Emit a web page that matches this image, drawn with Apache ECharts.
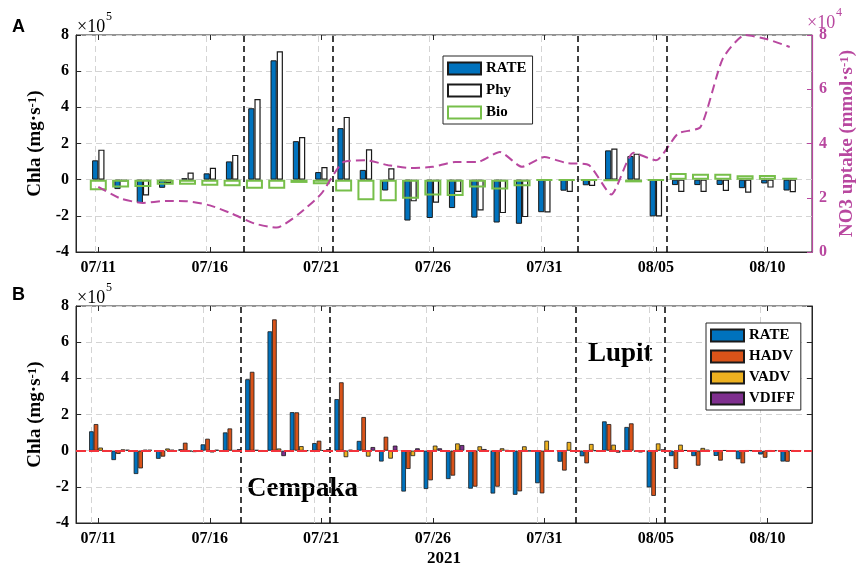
<!DOCTYPE html>
<html>
<head>
<meta charset="utf-8">
<script src="https://cdn.jsdelivr.net/npm/echarts@6/dist/echarts.min.js"></script>
<style>
  html, body { margin: 0; padding: 0; background: #fff; }
  #main { width: 856px; height: 566px; }
</style>
</head>
<body>
<div id="main"></div>
<script>
// days of the record, x position = index in this list
var dates = ['07/11','07/12','07/13','07/14','07/15','07/16','07/17','07/18','07/19','07/20',
             '07/21','07/22','07/23','07/24','07/25','07/26','07/27','07/28','07/29','07/30',
             '07/31','08/01','08/02','08/03','08/04','08/05','08/06','08/07','08/08','08/09',
             '08/10','08/11'];
var tickLabels = ['07/11','07/16','07/21','07/26','07/31','08/05','08/10'];

// Chla budget terms, units of 1e5 mg/s
var rate  = [1.07,-0.52,-1.29,-0.45,0.08,0.35,1.01,3.95,6.60,2.13,0.42,2.85,0.54,-0.60,-2.26,-2.12,
             -1.57,-2.10,-2.37,-2.44,-1.80,-0.61,-0.31,1.62,1.31,-2.03,-0.30,-0.30,-0.29,-0.47,-0.21,-0.60];
var phy   = [1.66,-0.10,-0.87,-0.18,0.39,0.66,1.37,4.46,7.10,2.36,0.70,3.47,1.68,0.63,-1.20,-1.27,
             -0.68,-1.70,-1.85,-2.07,-1.81,-0.68,-0.35,1.72,1.44,-2.03,-0.68,-0.68,-0.63,-0.72,-0.44,-0.70];
var bio   = [-0.59,-0.44,-0.41,-0.28,-0.28,-0.33,-0.37,-0.50,-0.50,-0.18,-0.26,-0.65,-1.14,-1.20,-1.05,-0.87,
             -0.90,-0.44,-0.54,-0.37,-0.05,-0.04,-0.04,-0.07,-0.15,-0.03,0.37,0.33,0.33,0.24,0.26,0.11];
var hadv  = [1.47,-0.18,-0.98,-0.33,0.44,0.66,1.23,4.36,7.26,2.12,0.55,3.78,1.86,0.77,-1.01,-1.64,
             -1.38,-1.99,-1.99,-2.25,-2.36,-1.10,-0.70,1.47,1.51,-2.50,-1.01,-0.83,-0.55,-0.70,-0.39,-0.61];
var vadv  = [0.17,0.07,0.05,0.12,-0.05,-0.10,0.03,0.04,0.12,0.25,0.02,-0.36,-0.33,-0.44,-0.30,0.28,
             0.40,0.24,0.13,0.24,0.55,0.48,0.37,0.33,-0.05,0.40,0.33,0.15,0.02,0.02,0.02,0.02];
var vdiff = [0.02,0.05,0.05,0.05,-0.08,0.05,0.08,0.02,-0.30,0.00,0.08,0.05,0.20,0.28,0.13,0.13,
             0.31,0.09,0.03,-0.03,0.00,0.00,0.00,-0.11,-0.10,0.07,0.02,0.05,0.00,0.00,0.00,0.00];
// NO3 uptake, units of 1e4 mmol/s
var no3   = [2.40,1.97,1.81,1.88,1.87,1.72,1.41,1.05,0.90,1.41,2.15,3.32,3.38,3.20,3.10,3.14,
             3.32,3.32,3.69,3.14,3.50,3.28,3.20,2.12,3.66,3.38,4.37,4.61,7.13,8.00,7.84,7.56];
// typhoon markers (days after 07/11)
var eventDays = [6.5, 10.5, 21.5, 25.5];

var serif = 'Liberation Serif';
var axisColor = '#262626';
var magenta = '#B8479F';
var gridGray = '#D4D4D4';

var tickDays = tickLabels.map(function (t) { return dates.indexOf(t); });

function pairs(arr) {
  return arr.map(function (v, i) { return [i, v]; });
}

function xAxisFor(gridIndex, position, showLabels, name) {
  return {
    type: 'value', gridIndex: gridIndex, position: position, min: -1, max: 32,
    name: name || '', nameLocation: 'middle', nameGap: 27,
    nameTextStyle: { fontFamily: serif, fontSize: 17, fontWeight: 'bold', color: '#000' },
    axisLine: { show: position === 'bottom', onZero: false, lineStyle: { color: axisColor } },
    axisTick: { show: true, inside: true, length: 5, customValues: tickDays, lineStyle: { color: axisColor } },
    axisLabel: {
      show: showLabels, customValues: tickDays, margin: 8,
      fontFamily: serif, fontSize: 16, fontWeight: 'bold', color: '#000',
      formatter: function (v) { return dates[v]; }
    },
    splitLine: { show: false }
  };
}

function chlaAxis(gridIndex) {
  return {
    type: 'value', gridIndex: gridIndex, position: 'left', min: -4, max: 8, interval: 2,
    name: 'Chla (mg·s{sup|-1})', nameLocation: 'middle', nameGap: 24, nameRotate: 90,
    nameTextStyle: {
      fontFamily: serif, fontSize: 19, fontWeight: 'bold', color: '#000',
      rich: { sup: { fontFamily: serif, fontSize: 13, fontWeight: 'bold', color: '#000', verticalAlign: 'top' } }
    },
    axisLine: { show: true, onZero: false, lineStyle: { color: axisColor } },
    axisTick: { inside: true, length: 5, lineStyle: { color: axisColor } },
    axisLabel: { margin: 7, fontFamily: serif, fontSize: 16, fontWeight: 'bold', color: '#000' },
    splitLine: { show: true, lineStyle: { color: gridGray, type: [6, 4], width: 1 } }
  };
}

var gridMark = {
  silent: true, symbol: ['none', 'none'], z: 1, label: { show: false },
  lineStyle: { color: gridGray, type: [6, 4], width: 1 },
  data: tickDays.map(function (d) { return { xAxis: d }; })
};
var eventMark = {
  silent: true, symbol: ['none', 'none'], z: 6, label: { show: false },
  lineStyle: { color: '#000', type: [6, 4], width: 1.5 },
  data: eventDays.map(function (d) { return { xAxis: d }; })
};

var myChart = echarts.init(document.getElementById('main'));

var option = {
  animation: false,
  backgroundColor: '#fff',
  textStyle: { fontFamily: serif },
  grid: [
    { left: 76, top: 35, width: 736, height: 217, show: true, borderColor: axisColor, borderWidth: 1,
      containLabel: false, outerBoundsMode: 'none' },
    { left: 76, top: 306, width: 736, height: 217, show: true, borderColor: axisColor, borderWidth: 1,
      containLabel: false, outerBoundsMode: 'none' }
  ],
  xAxis: [
    xAxisFor(0, 'bottom', true),
    xAxisFor(0, 'top', false),
    xAxisFor(1, 'bottom', true, '2021'),
    xAxisFor(1, 'top', false)
  ],
  yAxis: [
    chlaAxis(0),
    {
      type: 'value', gridIndex: 0, position: 'right', min: 0, max: 8, interval: 2,
      name: 'NO3 uptake (mmol·s{sup|-1})', nameLocation: 'middle', nameGap: 26, nameRotate: 90,
      nameTextStyle: {
        fontFamily: serif, fontSize: 19, fontWeight: 'bold', color: magenta,
        rich: { sup: { fontFamily: serif, fontSize: 13, fontWeight: 'bold', color: magenta, verticalAlign: 'top' } }
      },
      axisLine: { show: true, onZero: false, lineStyle: { color: magenta, width: 1.2 } },
      axisTick: { inside: true, length: 5, lineStyle: { color: magenta } },
      axisLabel: { margin: 7, fontFamily: serif, fontSize: 16, fontWeight: 'bold', color: magenta },
      splitLine: { show: false }
    },
    chlaAxis(1),
    {
      type: 'value', gridIndex: 1, position: 'right', min: -4, max: 8, interval: 2,
      axisLine: { show: true, onZero: false, lineStyle: { color: axisColor } },
      axisTick: { inside: true, length: 5, lineStyle: { color: axisColor } },
      axisLabel: { show: false },
      splitLine: { show: false }
    }
  ],
  legend: [
    {
      data: ['RATE', 'Phy', 'Bio'], orient: 'vertical', left: 443, top: 56,
      icon: 'rect', itemWidth: 33, itemHeight: 12, itemGap: 7, selectedMode: false,
      padding: [5, 6, 4, 4], borderColor: axisColor, borderWidth: 1, backgroundColor: '#fff',
      textStyle: { fontFamily: serif, fontSize: 15, fontWeight: 'bold', color: '#000' }
    },
    {
      data: ['RATE', 'HADV', 'VADV', 'VDIFF'], orient: 'vertical', left: 706, top: 323,
      icon: 'rect', itemWidth: 33, itemHeight: 12, itemGap: 6, selectedMode: false,
      padding: [5, 6, 4, 4], borderColor: axisColor, borderWidth: 1, backgroundColor: '#fff',
      textStyle: { fontFamily: serif, fontSize: 15, fontWeight: 'bold', color: '#000' }
    }
  ],
  graphic: [
    { type: 'text', left: 12, top: 18, style: { text: 'A', font: 'bold 18px "Liberation Sans"', fill: '#000' } },
    { type: 'text', left: 12, top: 286, style: { text: 'B', font: 'bold 18px "Liberation Sans"', fill: '#000' } },
    { type: 'text', left: 77, top: 18, style: { text: '×10', font: '18px "Liberation Serif"', fill: '#000' } },
    { type: 'text', left: 106, top: 11, style: { text: '5', font: '12px "Liberation Serif"', fill: '#000' } },
    { type: 'text', left: 77, top: 289, style: { text: '×10', font: '18px "Liberation Serif"', fill: '#000' } },
    { type: 'text', left: 106, top: 282, style: { text: '5', font: '12px "Liberation Serif"', fill: '#000' } },
    { type: 'text', left: 807, top: 14, style: { text: '×10', font: '18px "Liberation Serif"', fill: magenta } },
    { type: 'text', left: 836, top: 7, style: { text: '4', font: '12px "Liberation Serif"', fill: magenta } },
    { type: 'text', left: 247, top: 476, style: { text: 'Cempaka', font: 'bold 27px "Liberation Serif"', fill: '#000' } },
    { type: 'text', left: 588, top: 341, style: { text: 'Lupit', font: 'bold 27px "Liberation Serif"', fill: '#000' } }
  ],
  series: [
    {
      name: 'RATE', type: 'bar', xAxisIndex: 0, yAxisIndex: 0, data: pairs(rate),
      barWidth: 6.2, barGap: '0%',
      itemStyle: { color: '#0072BD', borderColor: '#1a1a1a', borderWidth: 1 },
      markLine: gridMark
    },
    {
      name: 'Phy', type: 'bar', xAxisIndex: 0, yAxisIndex: 0, data: pairs(phy),
      barWidth: 6.2, barGap: '0%',
      itemStyle: { color: '#fff', borderColor: '#1a1a1a', borderWidth: 1.2 }
    },
    {
      name: 'Bio', type: 'bar', xAxisIndex: 1, yAxisIndex: 0, data: pairs(bio), z: 3,
      barWidth: 17,
      itemStyle: { color: 'rgba(255,255,255,0)', borderColor: '#77BF4A', borderWidth: 2 },
      markLine: eventMark
    },
    {
      name: 'NO3 uptake', type: 'line', xAxisIndex: 1, yAxisIndex: 1, data: pairs(no3), z: 4,
      symbol: 'none', smooth: 0.2,
      lineStyle: { color: magenta, width: 2, type: [9, 5] }
    },
    {
      name: 'RATE', type: 'bar', xAxisIndex: 2, yAxisIndex: 2, data: pairs(rate),
      barWidth: 4.6, barGap: '0%',
      itemStyle: { color: '#0072BD', borderColor: '#1a1a1a', borderWidth: 0.8 },
      markLine: gridMark
    },
    {
      name: 'HADV', type: 'bar', xAxisIndex: 2, yAxisIndex: 2, data: pairs(hadv),
      barWidth: 4.6, barGap: '0%',
      itemStyle: { color: '#D95319', borderColor: '#1a1a1a', borderWidth: 0.8 },
      markLine: eventMark
    },
    {
      name: 'VADV', type: 'bar', xAxisIndex: 2, yAxisIndex: 2, data: pairs(vadv),
      barWidth: 4.6, barGap: '0%',
      itemStyle: { color: '#EDB120', borderColor: '#1a1a1a', borderWidth: 0.8 }
    },
    {
      name: 'VDIFF', type: 'bar', xAxisIndex: 2, yAxisIndex: 2, data: pairs(vdiff),
      barWidth: 4.6, barGap: '0%',
      itemStyle: { color: '#7E2F8E', borderColor: '#1a1a1a', borderWidth: 0.8 },
      markLine: {
        silent: true, symbol: ['none', 'none'], z: 7, label: { show: false },
        lineStyle: { color: '#F2333B', type: [10, 3], width: 2 },
        data: [{ yAxis: 0 }]
      }
    }
  ]
};

myChart.setOption(option);
</script>
</body>
</html>
